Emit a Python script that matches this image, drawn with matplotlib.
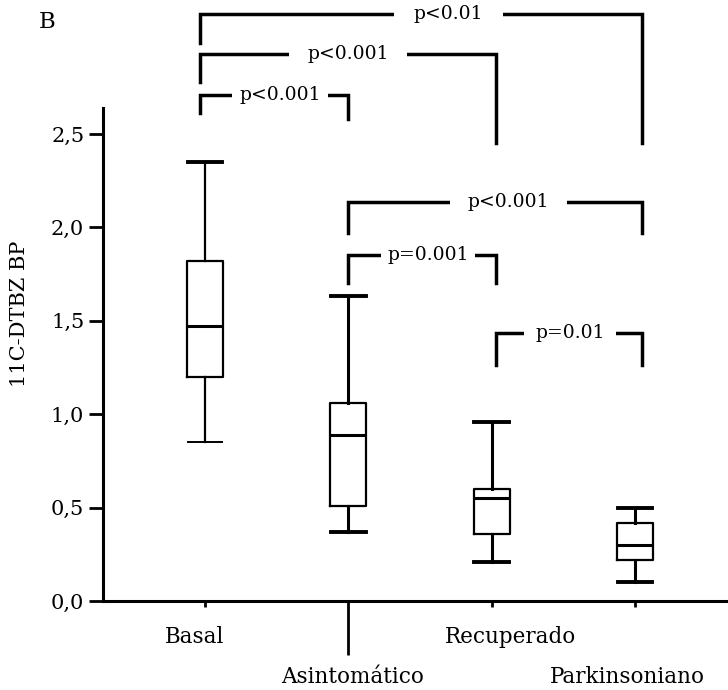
import matplotlib
matplotlib.use("Agg")
import matplotlib.pyplot as plt

# box plot values
groups = ["Basal", "Asintomático", "Recuperado", "Parkinsoniano"]
whis_lo = [0.85, 0.37, 0.21, 0.10]
q1 = [1.20, 0.51, 0.36, 0.22]
median = [1.47, 0.89, 0.55, 0.30]
q3 = [1.82, 1.06, 0.60, 0.42]
whis_hi = [2.35, 1.63, 0.96, 0.50]

# significance brackets: (left group, right group)
pairs = [(0, 3), (0, 2), (0, 1), (1, 3), (1, 2), (2, 3)]
p_labels = ["p<0.01", "p<0.001", "p<0.001", "p<0.001", "p=0.001", "p=0.01"]
bar_y = [3.142, 2.93, 2.71, 2.136, 1.852, 1.435]
left_end = [2.987, 2.778, 2.612, 1.97, 1.70, 1.263]
right_end = [2.452, 2.452, 2.58, 1.97, 1.70, 1.263]

yticks = [0.0, 0.5, 1.0, 1.5, 2.0, 2.5]
ytick_labels = ["0,0", "0,5", "1,0", "1,5", "2,0", "2,5"]

plt.rcParams["font.family"] = ["DejaVu Serif"]

fig = plt.figure(figsize=(7.28, 6.9), dpi=100)
ax = fig.add_axes([0.1415, 0.129, 0.8585, 0.871])

pos = [1, 2, 3, 4]
stats = []
for i in range(len(groups)):
    stats.append(dict(med=median[i], q1=q1[i], q3=q3[i],
                      whislo=whis_lo[i], whishi=whis_hi[i], fliers=[]))

res = ax.bxp(stats, positions=pos, widths=0.25, capwidths=0.24,
             showfliers=False, patch_artist=False,
             boxprops=dict(color="black", linewidth=1.6),
             medianprops=dict(color="black", linewidth=2.2),
             whiskerprops=dict(color="black", linewidth=2.2),
             capprops=dict(color="black", linewidth=2.8))
# the lower cap of the first box is thin in the original
res["caps"][0].set_linewidth(1.4)
res["whiskers"][0].set_linewidth(1.6)
res["whiskers"][1].set_linewidth(1.6)

# brackets
shift = [-0.035, 0.0, 0.03, 0.05]
text_dx = [0.19, 0.0, 0.04, 0.09, 0.04, 0.01]
gaps = [1.05, 0.95, 0.4, 0.95, 0.35, 0.6]
for k, (i, j) in enumerate(pairs):
    xl = pos[i] + shift[i]
    xr = pos[j] + shift[j]
    ax.plot([xl, xl, xr, xr], [left_end[k], bar_y[k], bar_y[k], right_end[k]],
            color="black", lw=2.5, solid_joinstyle="miter", clip_on=False, zorder=3)
    ax.text((xl + xr) / 2 + text_dx[k], bar_y[k], p_labels[k], fontsize=13.5,
            ha="center", va="center", zorder=4,
            bbox=dict(boxstyle="square,pad=%.2f" % gaps[k], fc="white", ec="none"))

ax.set_xlim(0.288, 4.649)
ax.set_ylim(0, 3.217)
ax.spines["top"].set_visible(False)
ax.spines["right"].set_visible(False)
ax.spines["left"].set_linewidth(2.2)
ax.spines["bottom"].set_linewidth(2.2)
ax.spines["left"].set_bounds(0, 2.64)

ax.set_yticks(yticks)
ax.set_yticklabels(ytick_labels, fontsize=15)
ax.tick_params(axis="y", length=10, width=2, pad=3.5)
ax.set_xticks(pos)
ax.set_xticklabels([])
ax.tick_params(axis="x", length=4.5, width=2)
ax.xaxis.get_major_ticks()[1].tick1line.set_markersize(39)

label_dx = [-0.07, 0.03, 0.13, -0.05]
label_row = [-26, -55, -26, -55]
for i, g in enumerate(groups):
    ax.annotate(g, xy=(pos[i] + label_dx[i], 0), xycoords=("data", "axes fraction"),
                xytext=(0, label_row[i]), textcoords="offset points",
                ha="center", va="center", fontsize=15.5, annotation_clip=False)

fig.text(20 / 728, 1 - 314 / 690, "11C-DTBZ BP", rotation=90, fontsize=15,
         ha="center", va="center")
fig.text(47 / 728, 1 - 22 / 690, "B", fontsize=16.5, ha="center", va="center")

fig.savefig("out.png", dpi=100, facecolor="white")
